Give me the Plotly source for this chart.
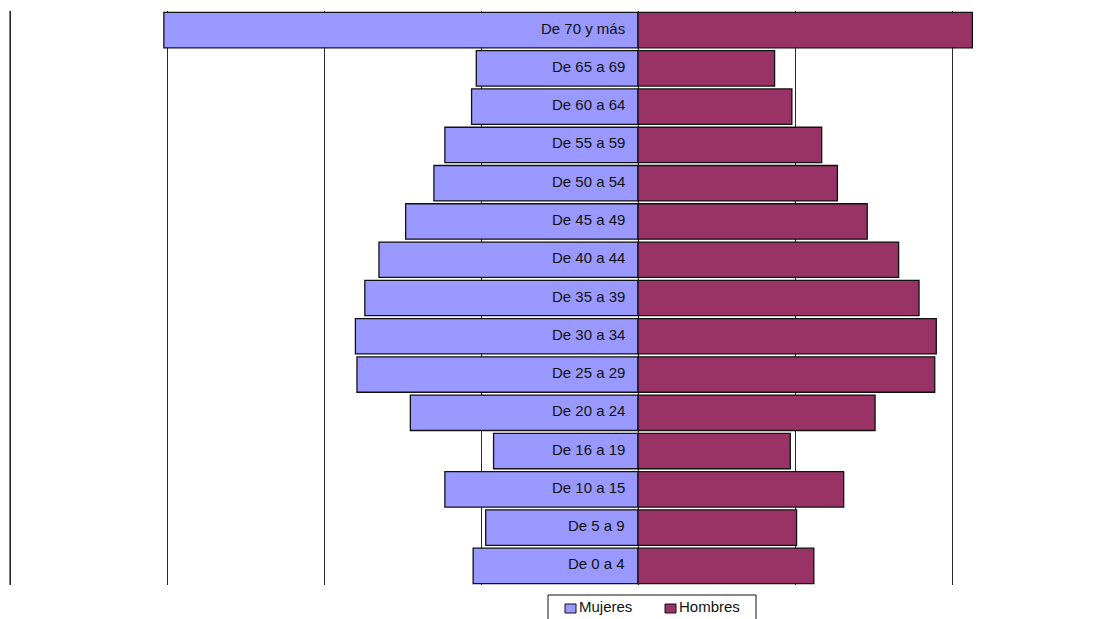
import plotly.graph_objects as go

# Age groups, bottom to top
grupos = ["De 0 a 4", "De 5 a 9", "De 10 a 15", "De 16 a 19", "De 20 a 24",
          "De 25 a 29", "De 30 a 34", "De 35 a 39", "De 40 a 44", "De 45 a 49",
          "De 50 a 54", "De 55 a 59", "De 60 a 64", "De 65 a 69", "De 70 y más"]

mujeres = [1.05, 0.97, 1.23, 0.92, 1.45, 1.79, 1.80, 1.74, 1.65, 1.48,
           1.30, 1.23, 1.06, 1.03, 3.02]
hombres = [1.12, 1.01, 1.31, 0.97, 1.51, 1.89, 1.90, 1.79, 1.66, 1.46,
           1.27, 1.17, 0.98, 0.87, 2.13]

series_names = ["Mujeres", "Hombres"]
series_colors = ["#9999FF", "#993366"]

grid_ticks = [-4, -3, -2, -1, 0, 1, 2]

FONT = "Liberation Sans, Arial, sans-serif"
GRID = "#2a2a2a"
W, H = 1099, 619
ML, MR, MT, MB = 6, 0, 11, 34
PW, PH = W - ML - MR, H - MT - MB
UNIT = 157.0  # pixels per x unit
x0 = -4 - (10 - ML) / UNIT
x_range = [x0, x0 + PW / UNIT]


def px_x(px):
    return (px - ML) / PW


def px_y(py):
    return (H - MB - py) / PH


fig = go.Figure()
fig.add_trace(go.Bar(
    y=grupos, x=[-v for v in mujeres], orientation="h", name=series_names[0],
    marker=dict(color=series_colors[0], line=dict(color="#111111", width=1.3)),
    hoverinfo="skip", showlegend=False,
))
fig.add_trace(go.Bar(
    y=grupos, x=hombres, orientation="h", name=series_names[1],
    marker=dict(color=series_colors[1], line=dict(color="#111111", width=1.3)),
    hoverinfo="skip", showlegend=False,
))

# Outermost grid line on the left edge of the plot area
fig.add_shape(type="line", xref="x", yref="paper", x0=grid_ticks[0], x1=grid_ticks[0],
              y0=0, y1=1, line=dict(color="#7a7a7a", width=2), layer="below")

# Age-group labels sit inside the women's bars, right-aligned at the centre axis
for g in grupos:
    fig.add_annotation(
        x=0, y=g, xref="x", yref="y", text=g, showarrow=False,
        xanchor="right", yanchor="middle", xshift=-11, yshift=2,
        font=dict(family=FONT, size=15, color="#111111"),
    )

# Legend box below the plot: framed, with square swatches hugging the names
fig.add_shape(type="rect", xref="paper", yref="paper",
              x0=px_x(548), x1=px_x(756), y0=px_y(640), y1=px_y(595),
              line=dict(color="#111111", width=1), fillcolor="white", layer="above")
swatch_left = [565, 665]
for name, color, sx in zip(series_names, series_colors, swatch_left):
    fig.add_shape(type="rect", xref="paper", yref="paper",
                  x0=px_x(sx), x1=px_x(sx + 11), y0=px_y(613), y1=px_y(604),
                  line=dict(color="#111111", width=1), fillcolor=color, layer="above")
    fig.add_annotation(x=px_x(sx + 12), y=px_y(606.5), xref="paper", yref="paper",
                       text=name, showarrow=False, xanchor="left", yanchor="middle",
                       font=dict(family=FONT, size=15, color="#111111"))

fig.update_layout(
    width=W, height=H,
    margin=dict(l=ML, r=MR, t=MT, b=MB, autoexpand=False),
    paper_bgcolor="white", plot_bgcolor="white",
    barmode="relative", bargap=0.075,
    font=dict(family=FONT, size=15, color="#111111"),
    showlegend=False,
    xaxis=dict(
        range=x_range, tickvals=grid_ticks, showticklabels=False,
        showgrid=True, gridcolor=GRID, gridwidth=1,
        zeroline=True, zerolinecolor="#111111", zerolinewidth=1,
        showline=False, ticks="", fixedrange=True,
    ),
    yaxis=dict(
        categoryorder="array", categoryarray=grupos,
        range=[-0.5, len(grupos) - 0.5],
        showticklabels=False, showgrid=False, zeroline=False,
        showline=False, ticks="", fixedrange=True,
    ),
)

fig.write_html("out.html")
